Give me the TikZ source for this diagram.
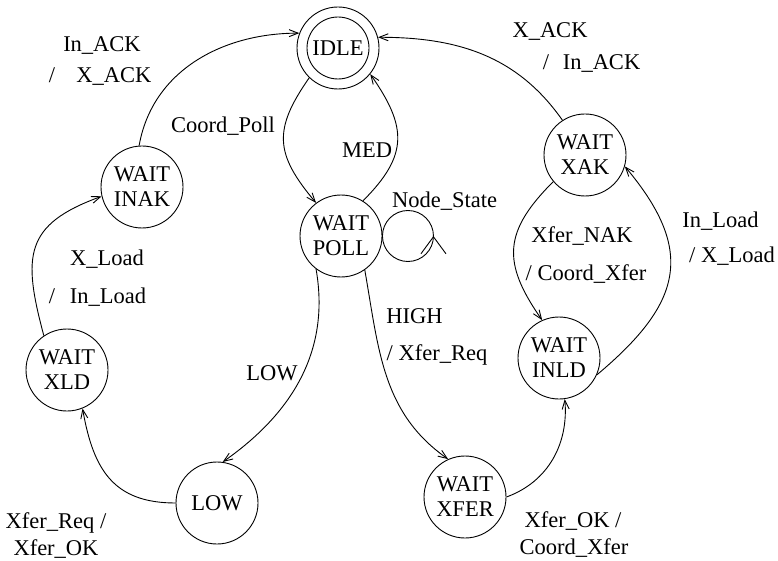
\documentclass[tikz,border=0pt]{standalone}
\usepackage{fontspec}
\setmainfont{Liberation Serif}
\usetikzlibrary{arrows.meta,decorations.markings}
\tikzset{
  state/.style={circle,draw,line width=0.9pt,minimum size=82pt,inner sep=0pt,align=center},
  lbl/.style={anchor=base,inner sep=0pt},
  trans/.style={line width=0.9pt,-{Straight Barb[length=9pt,width=7pt]}},
}

\begin{document}
\begin{tikzpicture}[x=1pt,y=1pt,font=\fontsize{22.5}{25}\selectfont]
\useasboundingbox (0,0) rectangle (778,-561);

\node[state] (idle) at (338,-48) {IDLE};
\node[circle,draw,line width=0.9pt,minimum size=62pt,inner sep=0pt] (idlein) at (idle) {};
\node[state] (poll) at (341,-236) {WAIT\\POLL};
\node[state] (inak) at (142,-187) {WAIT\\INAK};
\node[state] (xld) at (67,-370) {WAIT\\XLD};
\node[state] (low) at (217,-503) {LOW};
\node[state] (xfer) at (465,-497) {WAIT\\XFER};
\node[state] (inld) at (559,-358) {WAIT\\INLD};
\node[state] (xak) at (585,-155) {WAIT\\XAK};

\draw[trans] (inak.94) to[out=80,in=180] (idle.159);
\draw[trans] (idle.226) to[out=235,in=130,looseness=1.3] (poll.127);
\draw[trans] (poll.58) to[out=45,in=-55,looseness=1.3] (idle.321);
\draw[trans] (poll.233) to[out=280,in=35] (low.82);
\draw[trans] (low.180) to[out=180,in=-80,looseness=1.2] (xld.292);
\draw[trans] (xld.124) to[out=105,in=200,looseness=1.4] (inak.193);
\draw[trans] (poll.305) to[out=280,in=145] (xfer.114);
\draw[trans] (xfer.0) to[out=20,in=275] (inld.278);
\draw[trans] (inld.336) to[out=40,in=-50,looseness=1.35] (xak.344);
\draw[trans] (xak.220) to[out=225,in=125,looseness=1.3] (inld.114);
\draw[trans] (xak.123) to[out=125,in=0] (idle.15);
\draw[line width=0.9pt,postaction={decorate},
  decoration={markings,mark=at position 0.5 with {\arrow{Straight Barb[length=17pt,width=25pt]}}}]
  (poll.east) arc[start angle=180,end angle=540,radius=25.5pt];

\node[lbl] (inack) at (102,-52) {In\_ACK};
\node[lbl] (xackslash) at (52,-83) {/};
\node[lbl] (xack) at (114,-83) {X\_ACK};
\node[lbl] (coordpoll) at (223,-133) {Coord\_Poll};
\node[lbl] (med) at (367,-158) {MED};
\node[lbl] (nodestate) at (444.5,-208) {Node\_State};
\node[lbl] (xackr) at (550,-38) {X\_ACK};
\node[lbl] (inackslash) at (546,-70) {/};
\node[lbl] (inackr) at (601.5,-70) {In\_ACK};
\node[lbl] (xfernak) at (582,-242) {Xfer\_NAK};
\node[lbl] (coordxfer) at (586,-280) {/ Coord\_Xfer};
\node[lbl] (inload) at (720.5,-228) {In\_Load};
\node[lbl] (xload) at (732,-262) {/ X\_Load};
\node[lbl] (xloadl) at (107,-265) {X\_Load};
\node[lbl] (inloadslash) at (52,-303) {/};
\node[lbl] (inloadl) at (108,-303) {In\_Load};
\node[lbl] (lowlbl) at (272,-380) {LOW};
\node[lbl] (high) at (414.5,-323) {HIGH};
\node[lbl] (xferreq) at (437,-360) {/ Xfer\_Req};
\node[lbl] (xferreqb) at (56,-528) {Xfer\_Req /};
\node[lbl] (xferok) at (56,-555) {Xfer\_OK};
\node[lbl] (xferokr) at (573,-527) {Xfer\_OK /};
\node[lbl] (coordxferb) at (574,-554) {Coord\_Xfer};
\end{tikzpicture}
\end{document}
